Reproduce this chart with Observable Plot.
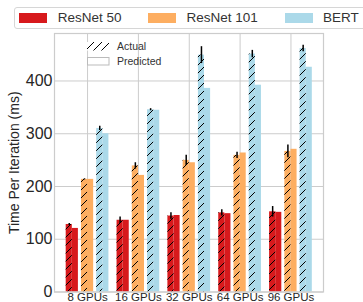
<!DOCTYPE html>
<html>
<head>
<meta charset="utf-8">
<script src="https://cdn.jsdelivr.net/npm/d3@7"></script>
<script src="https://cdn.jsdelivr.net/npm/@observablehq/plot@0.6"></script>
<style>
  body { margin: 0; background: white; font-family: "Liberation Sans", Arial, sans-serif; }
  #wrap { position: relative; width: 363px; height: 302px; overflow: hidden; }
  #legend { position: relative; height: 31px; }
  #legend .box { position: absolute; left: 14px; top: 7px; width: 400px; height: 22px; border: 1px solid #d6d6d6; border-radius: 3px; background: white; box-sizing: border-box; }
  #legend .sw { position: absolute; top: 12.7px; width: 28px; height: 10px; }
  #legend .lb { position: absolute; top: 10px; font-size: 13.5px; line-height: 16px; color: #333; }
  #inner { position: absolute; left: 0; top: 0; pointer-events: none; }
  #inner .lb { position: absolute; font-size: 10.5px; line-height: 12px; color: #333; }
  #chart svg text { font-family: "Liberation Sans", Arial, sans-serif; }
</style>
</head>
<body>
<div id="wrap">
  <div id="legend"><div class="box"></div></div>
  <div id="chart"></div>
  <div id="inner"></div>
</div>
<script>
const groups = ["8 GPUs", "16 GPUs", "32 GPUs", "64 GPUs", "96 GPUs"];
const models = ["ResNet 50", "ResNet 101", "BERT"];
const colors = ["#d7191c", "#fdae61", "#abd9e9"];
const yTicks = [0, 100, 200, 300, 400];

const r50Actual = [128, 136, 144, 150, 152];
const r50ActualErr = [2, 6, 6, 6, 10];
const r50Pred = [120.5, 136, 145, 148.5, 151];

const r101Actual = [213.5, 239, 249.5, 259, 266.5];
const r101ActualErr = [1, 6, 9.5, 6, 12];
const r101Pred = [213.5, 221, 245, 263.5, 270.5];

const bertActual = [310, 345.5, 449, 451, 461.5];
const bertActualErr = [4, 2, 16, 7, 6];
const bertPred = [300, 344.5, 386, 392, 426];

const actualSeries = [r50Actual, r101Actual, bertActual];
const errSeries = [r50ActualErr, r101ActualErr, bertActualErr];
const predSeries = [r50Pred, r101Pred, bertPred];

const barW = 0.12, pairStep = 0.3;
const rows = [];
models.forEach((m, mi) => {
  groups.forEach((g, gi) => {
    const base = gi + (mi - 1) * pairStep;
    rows.push({model: m, color: colors[mi], type: "Actual", cx: base - barW / 2,
      x1: base - barW, x2: base, value: actualSeries[mi][gi], err: errSeries[mi][gi]});
    rows.push({model: m, color: colors[mi], type: "Predicted", cx: base + barW / 2,
      x1: base, x2: base + barW, value: predSeries[mi][gi], err: 0});
  });
});
const actualRows = rows.filter(d => d.type === "Actual");

const defs = () => {
  const s = d3.create("svg:defs");
  const p = s.append("pattern").attr("id", "hatch").attr("patternUnits", "userSpaceOnUse")
    .attr("width", 8).attr("height", 8);
  p.append("path").attr("d", "M0,8L8,0M-2,2L2,-2M6,10L10,6")
    .attr("stroke", "#000").attr("stroke-width", 1).attr("fill", "none");
  return s.node();
};

const FONT = "'Liberation Sans', Arial, sans-serif";
const chart = Plot.plot({
  width: 363,
  height: 271,
  marginTop: 2,
  marginBottom: 10.5,
  marginLeft: 54,
  marginRight: 40,
  style: {fontFamily: FONT, color: "#262626", background: "white", overflow: "visible"},
  x: {type: "linear", domain: [-0.65, 4.64]},
  y: {domain: [0, 490]},
  marks: [
    defs,
    Plot.gridY(yTicks, {stroke: "#cccccc", strokeOpacity: 1, strokeWidth: 1}),
    Plot.gridX(d3.range(groups.length), {stroke: "#cccccc", strokeOpacity: 1, strokeWidth: 1}),
    Plot.rect(rows, {x1: "x1", x2: "x2", y1: 0, y2: "value", fill: "color"}),
    Plot.rect(actualRows, {x1: "x1", x2: "x2", y1: 0, y2: "value", fill: "url(#hatch)"}),
    Plot.ruleX(actualRows, {x: "cx", y1: d => d.value - d.err, y2: d => d.value + d.err, stroke: "#000", strokeWidth: 1.5}),
    Plot.frame({stroke: "#cccccc", strokeWidth: 1.2}),
    Plot.axisY(yTicks, {tickSize: 0, tickPadding: 2, fontSize: 16, label: null, fontFamily: FONT}),
    Plot.axisX(d3.range(groups.length), {tickSize: 0, tickPadding: 1, fontSize: 11.5, label: null, fontFamily: FONT, tickFormat: i => groups[i]}),
    Plot.text(["Time Per Iteration (ms)"], {frameAnchor: "left", textAnchor: "middle", rotate: -90, dx: -40, fontSize: 14, fontFamily: FONT, fill: "#262626"})
  ]
});
document.getElementById("chart").appendChild(chart);

// top legend
const legend = document.getElementById("legend");
const swX = [19, 148, 285], lbX = [57.7, 186.5, 323];
models.forEach((m, i) => {
  const sw = document.createElement("div");
  sw.className = "sw"; sw.style.left = swX[i] + "px"; sw.style.background = colors[i];
  legend.appendChild(sw);
  const lb = document.createElement("div");
  lb.className = "lb"; lb.style.left = lbX[i] + "px"; lb.textContent = m;
  legend.appendChild(lb);
});

// inner legend (Actual / Predicted)
const inner = document.getElementById("inner");
inner.innerHTML = `
<svg width="363" height="302" style="position:absolute;left:0;top:0">
  <defs>
    <pattern id="hatch2" patternUnits="userSpaceOnUse" width="8" height="8">
      <path d="M0,8L8,0M-2,2L2,-2M6,10L10,6" stroke="#000" stroke-width="1" fill="none"/>
    </pattern>
  </defs>
  <rect x="87" y="42" width="22" height="8.5" fill="white"/>
  <rect x="87" y="42" width="22" height="8.5" fill="url(#hatch2)"/>
  <rect x="87.5" y="57.5" width="21.5" height="7.5" fill="white" stroke="#bbbbbb" stroke-width="1"/>
</svg>
<div class="lb" style="left:117px;top:40px">Actual</div>
<div class="lb" style="left:117px;top:55px">Predicted</div>`;
</script>
</body>
</html>
